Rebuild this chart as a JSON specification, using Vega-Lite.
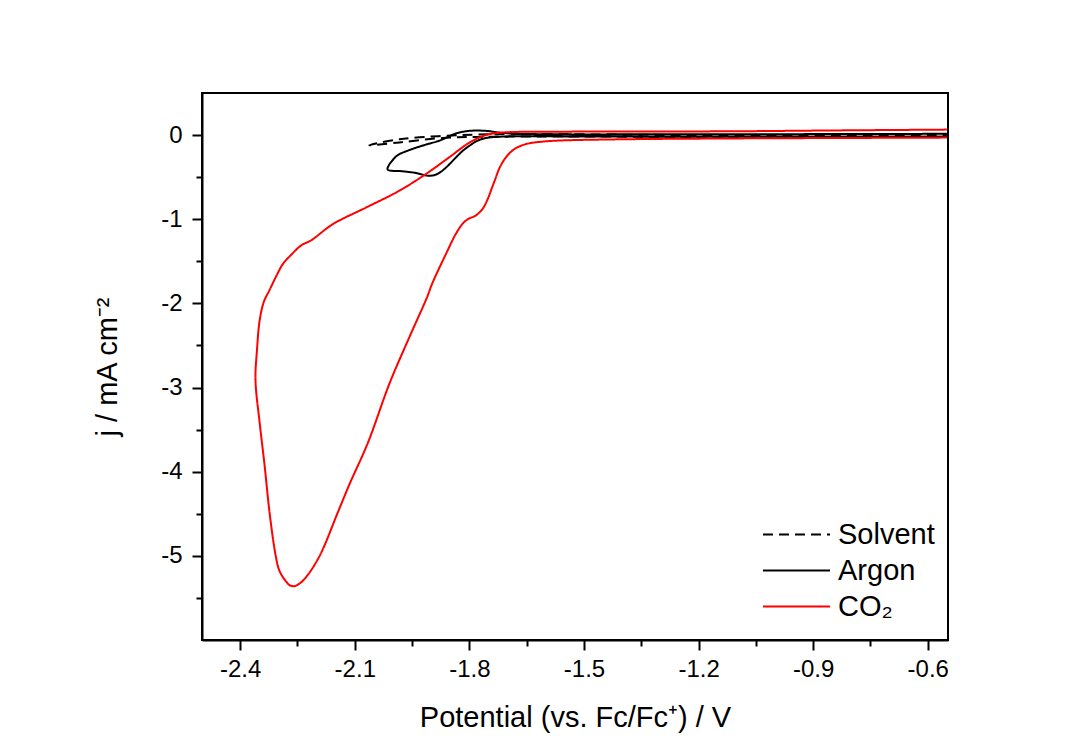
{
  "$schema": "https://vega.github.io/schema/vega-lite/v6.json",
  "width": 746,
  "height": 547,
  "autosize": {"type": "none"},
  "padding": {"left": 202, "top": 93, "right": 137, "bottom": 114},
  "background": "white",
  "config": {
    "view": {"stroke": "black", "strokeWidth": 2},
    "locale": {"number": {"decimal": ".", "thousands": ",", "grouping": [3], "currency": ["$", ""], "minus": "-"}},
    "axis": {
      "grid": false,
      "domainColor": "black",
      "domainWidth": 2,
      "tickColor": "black",
      "tickWidth": 2,
      "labelColor": "black",
      "labelFont": "Liberation Sans",
      "labelFontSize": 24,
      "titleFont": "Liberation Sans",
      "titleFontSize": 29,
      "titleFontWeight": "normal",
      "titleColor": "black"
    },
    "legend": {
      "labelFont": "Liberation Sans",
      "labelFontSize": 29,
      "labelColor": "black"
    }
  },
  "data": {
    "values": [
      {"s": "Solvent", "i": 0, "V": -0.55, "j": -0.02},
      {"s": "Solvent", "i": 1, "V": -1.2, "j": -0.02},
      {"s": "Solvent", "i": 2, "V": -1.739, "j": -0.02},
      {"s": "Solvent", "i": 3, "V": -1.87, "j": -0.035},
      {"s": "Solvent", "i": 4, "V": -1.983, "j": -0.087},
      {"s": "Solvent", "i": 5, "V": -2.062, "j": -0.12},
      {"s": "Solvent", "i": 6, "V": -1.983, "j": -0.05},
      {"s": "Solvent", "i": 7, "V": -1.87, "j": -0.01},
      {"s": "Solvent", "i": 8, "V": -1.739, "j": 0.01},
      {"s": "Solvent", "i": 9, "V": -1.2, "j": 0.0},
      {"s": "Solvent", "i": 10, "V": -0.55, "j": 0.0},

      {"s": "Argon", "i": 0, "V": -0.55, "j": -0.02},
      {"s": "Argon", "i": 1, "V": -1.2, "j": -0.02},
      {"s": "Argon", "i": 2, "V": -1.6, "j": -0.015},
      {"s": "Argon", "i": 3, "V": -1.696, "j": -0.015},
      {"s": "Argon", "i": 4, "V": -1.757, "j": -0.035},
      {"s": "Argon", "i": 5, "V": -1.78, "j": -0.07},
      {"s": "Argon", "i": 6, "V": -1.8, "j": -0.127},
      {"s": "Argon", "i": 7, "V": -1.818, "j": -0.19},
      {"s": "Argon", "i": 8, "V": -1.835, "j": -0.265},
      {"s": "Argon", "i": 9, "V": -1.853, "j": -0.35},
      {"s": "Argon", "i": 10, "V": -1.87, "j": -0.42},
      {"s": "Argon", "i": 11, "V": -1.883, "j": -0.46},
      {"s": "Argon", "i": 12, "V": -1.896, "j": -0.48},
      {"s": "Argon", "i": 13, "V": -1.913, "j": -0.48},
      {"s": "Argon", "i": 14, "V": -1.94, "j": -0.45},
      {"s": "Argon", "i": 15, "V": -1.975, "j": -0.43},
      {"s": "Argon", "i": 16, "V": -2.014, "j": -0.41},
      {"s": "Argon", "i": 17, "V": -2.011, "j": -0.36},
      {"s": "Argon", "i": 18, "V": -2.005, "j": -0.32},
      {"s": "Argon", "i": 19, "V": -1.988, "j": -0.24},
      {"s": "Argon", "i": 20, "V": -1.957, "j": -0.178},
      {"s": "Argon", "i": 21, "V": -1.913, "j": -0.112},
      {"s": "Argon", "i": 22, "V": -1.879, "j": -0.067},
      {"s": "Argon", "i": 23, "V": -1.855, "j": -0.02},
      {"s": "Argon", "i": 24, "V": -1.835, "j": 0.02},
      {"s": "Argon", "i": 25, "V": -1.8, "j": 0.05},
      {"s": "Argon", "i": 26, "V": -1.757, "j": 0.05},
      {"s": "Argon", "i": 27, "V": -1.722, "j": 0.03},
      {"s": "Argon", "i": 28, "V": -1.67, "j": 0.015},
      {"s": "Argon", "i": 29, "V": -1.2, "j": 0.01},
      {"s": "Argon", "i": 30, "V": -0.55, "j": 0.015},

      {"s": "CO₂", "i": 0, "V": -0.55, "j": -0.03},
      {"s": "CO₂", "i": 1, "V": -0.85, "j": -0.035},
      {"s": "CO₂", "i": 2, "V": -1.113, "j": -0.04},
      {"s": "CO₂", "i": 3, "V": -1.4, "j": -0.05},
      {"s": "CO₂", "i": 4, "V": -1.565, "j": -0.065},
      {"s": "CO₂", "i": 5, "V": -1.609, "j": -0.078},
      {"s": "CO₂", "i": 6, "V": -1.64, "j": -0.095},
      {"s": "CO₂", "i": 7, "V": -1.661, "j": -0.12},
      {"s": "CO₂", "i": 8, "V": -1.68, "j": -0.16},
      {"s": "CO₂", "i": 9, "V": -1.696, "j": -0.22},
      {"s": "CO₂", "i": 10, "V": -1.71, "j": -0.3},
      {"s": "CO₂", "i": 11, "V": -1.722, "j": -0.4},
      {"s": "CO₂", "i": 12, "V": -1.732, "j": -0.52},
      {"s": "CO₂", "i": 13, "V": -1.742, "j": -0.64},
      {"s": "CO₂", "i": 14, "V": -1.752, "j": -0.76},
      {"s": "CO₂", "i": 15, "V": -1.766, "j": -0.88},
      {"s": "CO₂", "i": 16, "V": -1.783, "j": -0.955},
      {"s": "CO₂", "i": 17, "V": -1.8, "j": -0.99},
      {"s": "CO₂", "i": 18, "V": -1.815, "j": -1.04},
      {"s": "CO₂", "i": 19, "V": -1.835, "j": -1.17},
      {"s": "CO₂", "i": 20, "V": -1.861, "j": -1.41},
      {"s": "CO₂", "i": 21, "V": -1.896, "j": -1.75},
      {"s": "CO₂", "i": 22, "V": -1.913, "j": -1.95},
      {"s": "CO₂", "i": 23, "V": -1.957, "j": -2.4},
      {"s": "CO₂", "i": 24, "V": -2.009, "j": -2.95},
      {"s": "CO₂", "i": 25, "V": -2.066, "j": -3.66},
      {"s": "CO₂", "i": 26, "V": -2.114, "j": -4.15},
      {"s": "CO₂", "i": 27, "V": -2.145, "j": -4.49},
      {"s": "CO₂", "i": 28, "V": -2.192, "j": -5.0},
      {"s": "CO₂", "i": 29, "V": -2.227, "j": -5.25},
      {"s": "CO₂", "i": 30, "V": -2.245, "j": -5.33},
      {"s": "CO₂", "i": 31, "V": -2.258, "j": -5.36},
      {"s": "CO₂", "i": 32, "V": -2.27, "j": -5.35},
      {"s": "CO₂", "i": 33, "V": -2.279, "j": -5.31},
      {"s": "CO₂", "i": 34, "V": -2.297, "j": -5.18},
      {"s": "CO₂", "i": 35, "V": -2.307, "j": -5.0},
      {"s": "CO₂", "i": 36, "V": -2.323, "j": -4.49},
      {"s": "CO₂", "i": 37, "V": -2.336, "j": -3.93},
      {"s": "CO₂", "i": 38, "V": -2.349, "j": -3.42},
      {"s": "CO₂", "i": 39, "V": -2.36, "j": -2.91},
      {"s": "CO₂", "i": 40, "V": -2.356, "j": -2.55},
      {"s": "CO₂", "i": 41, "V": -2.349, "j": -2.2},
      {"s": "CO₂", "i": 42, "V": -2.338, "j": -1.98},
      {"s": "CO₂", "i": 43, "V": -2.323, "j": -1.84},
      {"s": "CO₂", "i": 44, "V": -2.306, "j": -1.68},
      {"s": "CO₂", "i": 45, "V": -2.288, "j": -1.53},
      {"s": "CO₂", "i": 46, "V": -2.266, "j": -1.42},
      {"s": "CO₂", "i": 47, "V": -2.24, "j": -1.31},
      {"s": "CO₂", "i": 48, "V": -2.214, "j": -1.25},
      {"s": "CO₂", "i": 49, "V": -2.158, "j": -1.06},
      {"s": "CO₂", "i": 50, "V": -2.07, "j": -0.86},
      {"s": "CO₂", "i": 51, "V": -1.983, "j": -0.66},
      {"s": "CO₂", "i": 52, "V": -1.913, "j": -0.46},
      {"s": "CO₂", "i": 53, "V": -1.853, "j": -0.265},
      {"s": "CO₂", "i": 54, "V": -1.8, "j": -0.09},
      {"s": "CO₂", "i": 55, "V": -1.757, "j": 0.0},
      {"s": "CO₂", "i": 56, "V": -1.713, "j": 0.03},
      {"s": "CO₂", "i": 57, "V": -1.565, "j": 0.04},
      {"s": "CO₂", "i": 58, "V": -1.113, "j": 0.045},
      {"s": "CO₂", "i": 59, "V": -0.85, "j": 0.055},
      {"s": "CO₂", "i": 60, "V": -0.55, "j": 0.065}
    ]
  },
  "mark": {"type": "line", "strokeWidth": 2, "clip": true, "interpolate": "catmull-rom"},
  "encoding": {
    "x": {
      "field": "V",
      "type": "quantitative",
      "scale": {"domain": [-2.5, -0.547], "nice": false, "zero": false},
      "axis": {
        "values": [-2.4, -2.25, -2.1, -1.95, -1.8, -1.65, -1.5, -1.35, -1.2, -1.05, -0.9, -0.75, -0.6],
        "labelExpr": "abs(round(datum.value * 10)) % 3 == 0 ? format(datum.value, '.1f') : ''",
        "tickSize": {"condition": {"test": "abs(round(datum.value * 10)) % 3 == 0", "value": 10}, "value": 6},
        "labelFontSize": 24,
        "labelPadding": 7,
        "labelFlush": false,
        "labelOverlap": false,
        "title": "Potential (vs. Fc/Fc⁺) / V",
        "titleFontSize": 29,
        "titlePadding": 22
      }
    },
    "y": {
      "field": "j",
      "type": "quantitative",
      "scale": {"domain": [-6, 0.5], "nice": false, "zero": false},
      "axis": {
        "values": [0, -0.5, -1, -1.5, -2, -2.5, -3, -3.5, -4, -4.5, -5, -5.5],
        "labelExpr": "datum.value % 1 == 0 ? format(datum.value, 'd') : ''",
        "tickSize": {"condition": {"test": "datum.value % 1 == 0", "value": 10}, "value": 6},
        "labelFontSize": 24,
        "labelPadding": 10,
        "labelFlush": false,
        "labelOverlap": false,
        "title": "j / mA cm⁻²",
        "titleFontSize": 29,
        "titlePadding": 38
      }
    },
    "order": {"field": "i", "type": "quantitative"},
    "color": {
      "field": "s",
      "type": "nominal",
      "scale": {"domain": ["Solvent", "Argon", "CO₂"], "range": ["black", "black", "#ff0000"]},
      "legend": {
        "title": null,
        "orient": "none",
        "legendX": 580,
        "legendY": 427,
        "symbolType": "M-3.35,0H3.35",
        "symbolSize": 400,
        "symbolStrokeWidth": 2,
        "rowPadding": 6,
        "labelOffset": 27,
        "labelFontSize": 29
      }
    },
    "strokeDash": {
      "field": "s",
      "type": "nominal",
      "scale": {"domain": ["Solvent", "Argon", "CO₂"], "range": [[10, 6], [1, 0], [1, 0]]},
      "legend": {
        "title": null,
        "orient": "none",
        "legendX": 580,
        "legendY": 427,
        "symbolType": "M-3.35,0H3.35",
        "symbolSize": 400,
        "symbolStrokeWidth": 2,
        "rowPadding": 6,
        "labelOffset": 27,
        "labelFontSize": 29
      }
    }
  }
}
